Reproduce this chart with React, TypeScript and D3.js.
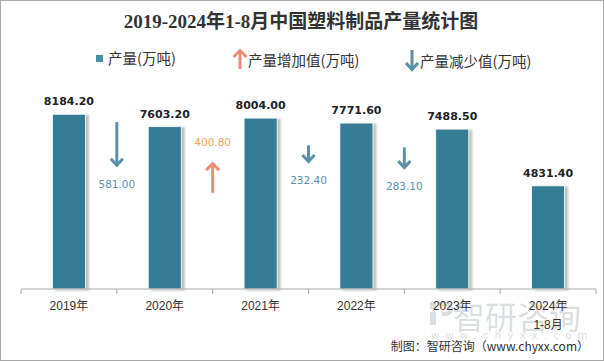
import React from "react";
import * as d3 from "d3";

const categories = ["2019年", "2020年", "2021年", "2022年", "2023年", "2024年\n1-8月"];
const output = [8184.2, 7603.2, 8004.0, 7771.6, 7488.5, 4831.4];
// change between consecutive years: [index of later year, value, direction]
const changeAt = [1, 2, 3, 4];
const changeValue = [581.0, 400.8, 232.4, 283.1];
const changeDir = ["down", "up", "down", "down"];

const W = 604;
const H = 361;

export default function App() {
  const margin = { left: 21, right: 8, top: 75.5, bottom: 72 };
  const axisY = H - margin.bottom;

  const x = d3
    .scaleBand()
    .domain(categories)
    .range([margin.left, W - margin.right])
    .paddingInner(0.655)
    .paddingOuter(0.3275);
  const step = (W - margin.right - margin.left) / categories.length;

  const y = d3.scaleLinear().domain([0, 10000]).range([axisY, margin.top]);
  const arrowLen = d3.scaleLinear().domain([0, 600]).range([0, 46]);

  const barColor = "#367b95";
  const downColor = "#5a90a8";
  const downText = "#5a8fb5";
  const upColor = "#f08b78";
  const upText = "#f4a660";

  const downArrow = (cx: number, top: number, bottom: number, color: string) => (
    <g stroke={color} strokeWidth={3} fill="none">
      <line x1={cx} x2={cx} y1={top} y2={bottom - 1} />
      <polyline points={`${cx - 6},${bottom - 8} ${cx},${bottom - 1.5} ${cx + 6},${bottom - 8}`} strokeLinejoin="miter" />
    </g>
  );
  const upArrow = (cx: number, top: number, bottom: number, color: string) => (
    <g stroke={color} strokeWidth={3} fill="none">
      <line x1={cx} x2={cx} y1={top + 1} y2={bottom} />
      <polyline points={`${cx - 6.5},${top + 8} ${cx},${top + 1.5} ${cx + 6.5},${top + 8}`} strokeLinejoin="miter" />
    </g>
  );

  const sans = "'Liberation Sans','Noto Sans CJK SC',sans-serif";
  const num = "'DejaVu Sans',sans-serif";

  return (
    <svg width={W} height={H} style={{ position: "absolute", left: 0, top: 0, background: "#fff" }}>
      <defs>
        <filter id="shadow" x="-20%" y="-10%" width="150%" height="130%">
          <feDropShadow dx={3} dy={1} stdDeviation={1.2} floodColor="#888" floodOpacity={0.55} />
        </filter>
      </defs>
      <rect x={0.5} y={0.5} width={W - 1} height={H - 1} fill="#fff" stroke="#a9a9a9" />

      {/* title */}
      <text x={301} y={28} textAnchor="middle" fontFamily="'Liberation Serif','Noto Sans CJK SC',serif" fontWeight="bold" fontSize={19} fill="#333">
        2019-2024年1-8月中国塑料制品产量统计图
      </text>

      {/* legend */}
      <g fontFamily="'Noto Sans CJK SC',sans-serif" fontSize={14.5} fill="#333">
        <rect x={96} y={55} width={7} height={7} fill="#4a8ea8" />
        <text x={108} y={64}>产量(万吨)</text>
        {upArrow(240, 49, 69, upColor)}
        <text x={248} y={66}>产量增加值(万吨)</text>
        {downArrow(412, 50, 71, downColor)}
        <text x={420} y={67}>产量减少值(万吨)</text>
      </g>

      {/* bars */}
      <g filter="url(#shadow)">
        {output.map((v, i) => (
          <rect
            key={i}
            x={x(categories[i])!}
            y={y(v)}
            width={x.bandwidth()}
            height={axisY - y(v)}
            fill={barColor}
            stroke="#fff"
            strokeWidth={0.8}
          />
        ))}
      </g>
      {output.map((v, i) => (
        <text
          key={i}
          x={x(categories[i])! + x.bandwidth() / 2}
          y={y(v) - 9}
          textAnchor="middle"
          fontFamily={num}
          fontWeight="bold"
          fontSize={11}
          fill="#222"
        >
          {v.toFixed(2)}
        </text>
      ))}

      {/* change arrows */}
      {changeAt.map((idx, k) => {
        const cx = margin.left + step * idx;
        const len = arrowLen(changeValue[k]);
        const label = changeValue[k].toFixed(2);
        if (changeDir[k] === "down") {
          const bottom = y(output[idx]) + 40;
          return (
            <g key={k}>
              {downArrow(cx, bottom - len, bottom, downColor)}
              <text x={cx} y={bottom + 21} textAnchor="middle" fontFamily={num} fontSize={10.5} fill={downText}>
                {label}
              </text>
            </g>
          );
        }
        const top = y(output[idx]) + 44;
        return (
          <g key={k}>
            {upArrow(cx, top, top + len, upColor)}
            <text x={cx} y={top - 16} textAnchor="middle" fontFamily={num} fontSize={10.5} fill={upText}>
              {label}
            </text>
          </g>
        );
      })}

      {/* watermark */}
      <g fill="#cdd2d6" opacity={0.7}>
        <rect x={430} y={302} width={6} height={7} />
        <rect x={430} y={312} width={6} height={13} />
        <path d="M438,302 h8 a7,7 0 0 1 0,14 h-4 v-4 h4 a3,3 0 0 0 0,-6 h-8 z" />
        <text x={453} y={329} fontFamily="'Noto Sans CJK SC',sans-serif" fontSize={32}>
          智研咨询
        </text>
        <text x={431} y={339} fontFamily="'DejaVu Sans',sans-serif" fontSize={10} letterSpacing={6.3}>
          www.chyxx.com
        </text>
      </g>

      {/* x axis */}
      <g>
        <line x1={margin.left} x2={W - margin.right} y1={axisY} y2={axisY} stroke="#aaa" />
        {d3.range(categories.length + 1).map((i) => (
          <line
            key={i}
            x1={margin.left + step * i}
            x2={margin.left + step * i}
            y1={axisY}
            y2={axisY + 5}
            stroke="#aaa"
          />
        ))}
        {categories.map((c) => (
          <text
            key={c}
            x={x(c)! + x.bandwidth() / 2}
            y={axisY + 21}
            textAnchor="middle"
            fontFamily={sans}
            fontSize={12}
            fill="#333"
          >
            {c.split("\n").map((line, j) => (
              <tspan key={j} x={x(c)! + x.bandwidth() / 2} dy={j === 0 ? 0 : 19}>
                {line}
              </tspan>
            ))}
          </text>
        ))}
      </g>

      {/* source */}
      <text x={589} y={351} textAnchor="end" fontFamily="'Noto Sans CJK SC',sans-serif" fontSize={12} fill="#333">
        制图：智研咨询（www.chyxx.com）
      </text>
    </svg>
  );
}
